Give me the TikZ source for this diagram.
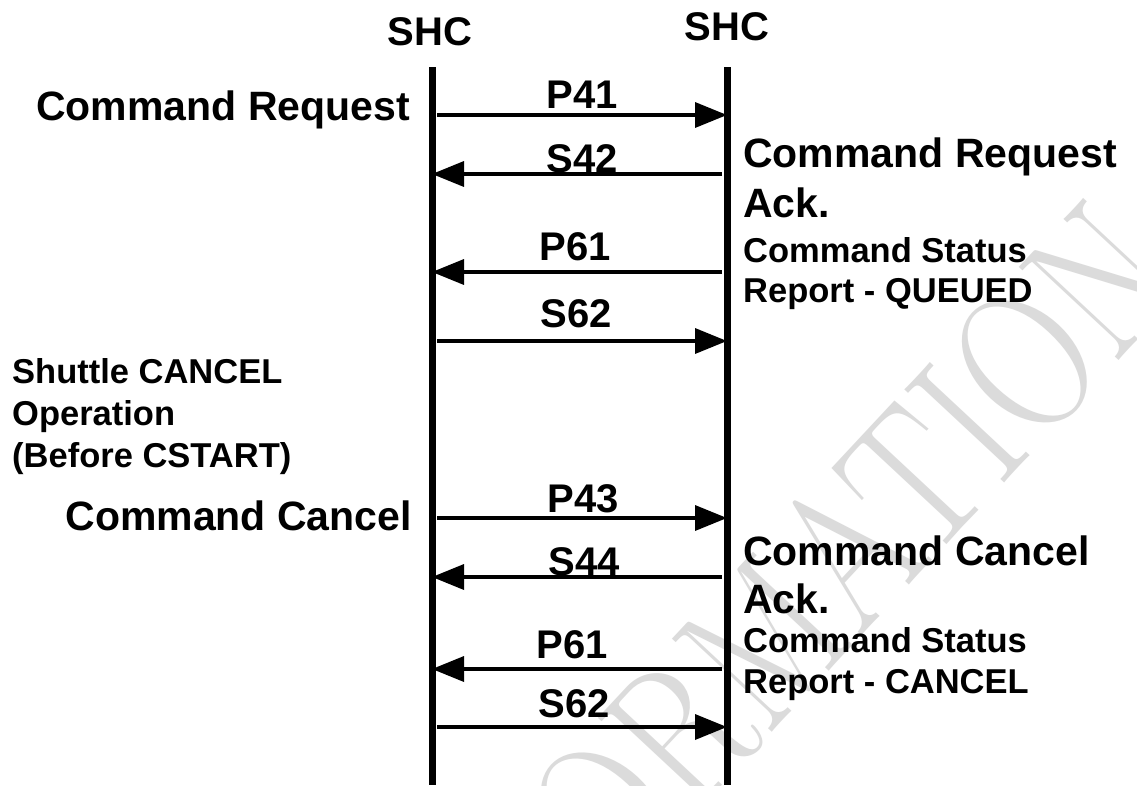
\documentclass[tikz,border=0pt]{standalone}
\usepackage{fontspec}
\setsansfont{Liberation Sans}
\usetikzlibrary{arrows.meta,positioning}

\begin{document}
\begin{tikzpicture}[x=1pt,y=-1pt,>={Triangle[length=32pt,width=25pt]}]
        {

          \tikzstyle{life}=[line width=7pt]
          \tikzstyle{msg}=[line width=3.5pt,->]
          \tikzstyle{big}=[inner sep=0pt,font=\fontsize{41}{49}\selectfont\sffamily\bfseries]
          \tikzstyle{small}=[inner sep=0pt,font=\fontsize{34.5}{41}\selectfont\sffamily\bfseries]
          \tikzstyle{lbl}=[inner sep=0pt,anchor=base,font=\fontsize{40}{48}\selectfont\sffamily\bfseries]
          \tikzstyle{wmark}=[inner sep=0pt,rotate=47,text=black!14,
            font=\fontsize{200}{200}\selectfont\rmfamily]

          \useasboundingbox (0,0) rectangle (1137,785);
          \fill[white] (0,0) rectangle (1137,785);

          % watermark
          \node [wmark] (wm) at (764,640) {\scalebox{0.8}[1]{INFORMATION}};

          \begin{scope}

            % the two lifelines
            \node [lbl] (shc1) at (430,45) {SHC};
            \node [lbl] (shc2) at (727,40) {SHC};
            \coordinate (a0) at (432,67);
            \coordinate (a1) at (432,785);
            \coordinate (b0) at (727,67);
            \coordinate (b1) at (727,785);
            \draw [life] (a0) -- (a1);
            \draw [life] (b0) -- (b1);

            % request
            \coordinate (p41a) at (437,115);
            \coordinate (p41b) at (727,115);
            \draw [msg] (p41a) -- (p41b);
            \node [lbl] (p41) at (582,108) {P41};

            \coordinate (s42a) at (722,174);
            \coordinate (s42b) at (432,174);
            \node [lbl] (s42) at (582,172) {S42};
            \draw [msg] (s42a) -- (s42b);

            \coordinate (p61a) at (722,272);
            \coordinate (p61b) at (432,272);
            \draw [msg] (p61a) -- (p61b);
            \node [lbl] (p61) at (575,260) {P61};

            \coordinate (s62a) at (437,341);
            \coordinate (s62b) at (727,341);
            \draw [msg] (s62a) -- (s62b);
            \node [lbl] (s62) at (576,327) {S62};

            % cancel
            \coordinate (p43a) at (437,518);
            \coordinate (p43b) at (727,518);
            \draw [msg] (p43a) -- (p43b);
            \node [lbl] (p43) at (583,512) {P43};

            \coordinate (s44a) at (722,577);
            \coordinate (s44b) at (432,577);
            \node [lbl] (s44) at (584,575) {S44};
            \draw [msg] (s44a) -- (s44b);

            \coordinate (p61ca) at (722,669);
            \coordinate (p61cb) at (432,669);
            \draw [msg] (p61ca) -- (p61cb);
            \node [lbl] (p61c) at (572,658) {P61};

            \coordinate (s62ca) at (437,727);
            \coordinate (s62cb) at (727,727);
            \draw [msg] (s62ca) -- (s62cb);
            \node [lbl] (s62c) at (574,717) {S62};

            % left side
            \node [big,anchor=base east] (req) at (410,120) {Command Request};
            \node [small,anchor=base west] (op1) at (12,383) {Shuttle CANCEL};
            \node [small,anchor=base west] (op2) at (12,425) {Operation};
            \node [small,anchor=base west] (op3) at (12,467) {(Before CSTART)};
            \node [big,anchor=base east] (can) at (412,530) {Command Cancel};

            % right side
            \node [big,anchor=base west] (reqack1) at (743,167) {Command Request};
            \node [big,anchor=base west] (reqack2) at (743,217) {Ack.};
            \node [small,anchor=base west] (rep1) at (743,262) {Command Status};
            \node [small,anchor=base west] (rep2) at (743,302) {Report - QUEUED};
            \node [big,anchor=base west] (canack1) at (743,565) {Command Cancel};
            \node [big,anchor=base west] (canack2) at (743,613) {Ack.};
            \node [small,anchor=base west] (rep3) at (743,652) {Command Status};
            \node [small,anchor=base west] (rep4) at (743,693) {Report - CANCEL};

          \end{scope}
        }
\end{tikzpicture}
\end{document}
